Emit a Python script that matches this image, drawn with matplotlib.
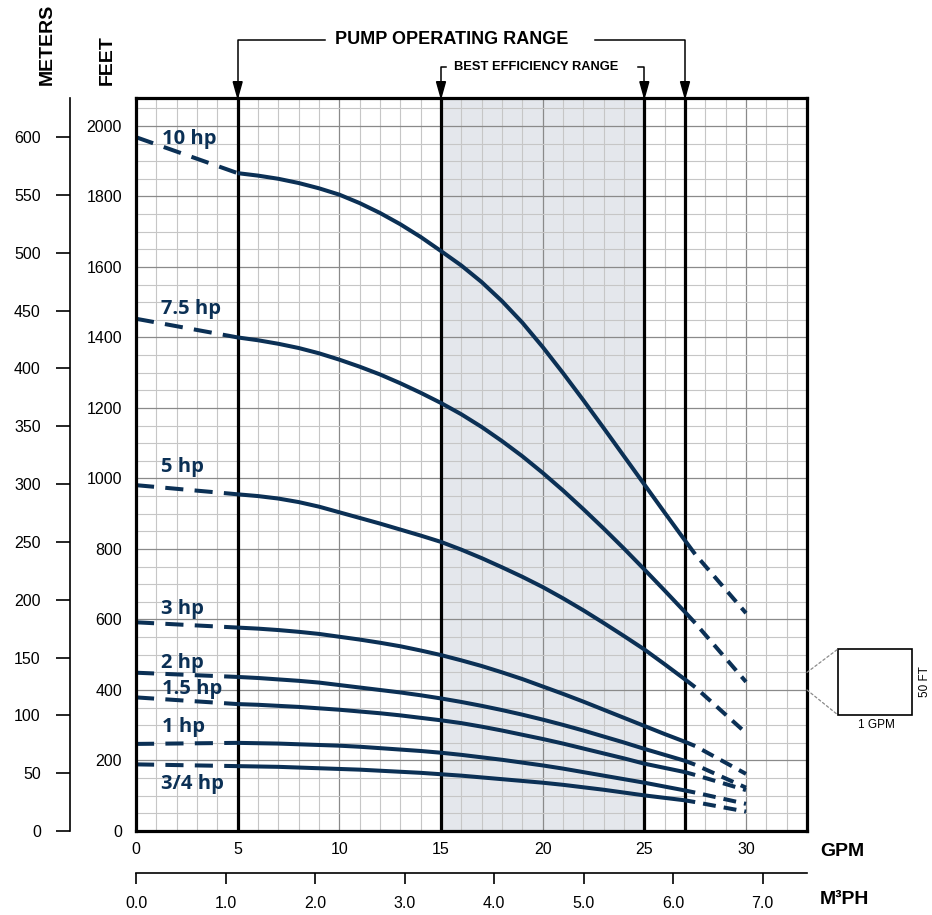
import numpy as np
import matplotlib
matplotlib.use("Agg")
import matplotlib.pyplot as plt
from matplotlib import transforms
from matplotlib.patches import Polygon, Rectangle, ConnectionPatch

plt.rcParams['font.family'] = ['Liberation Sans', 'DejaVu Sans']

# flow (GPM) and head (feet)
gpm = [0, 5, 6, 7, 8, 9, 10, 11, 12, 13, 14, 15, 16, 17, 18, 19, 20,
       21, 22, 23, 24, 25, 26, 27, 27.5, 30]
head_10hp = [1968, 1866, 1859, 1850, 1838, 1823, 1805, 1781, 1753, 1721, 1685, 1645, 1604,
             1557, 1503, 1442, 1373, 1299, 1222, 1143, 1063, 983, 903, 824, 785, 618]
head_7_5hp = [1453, 1400, 1392, 1382, 1370, 1355, 1337, 1317, 1295, 1270, 1243, 1214, 1182,
              1146, 1106, 1063, 1016, 966, 913, 858, 801, 742, 682, 621, 590, 423]
head_5hp = [981, 955, 950, 943, 933, 920, 904, 888, 872, 855, 838, 820, 798,
            774, 748, 721, 692, 660, 626, 590, 553, 515, 473, 430, 408, 278]
head_3hp = [592, 577, 574, 570, 565, 559, 551, 543, 534, 524, 512, 499, 484,
            468, 450, 431, 410, 389, 367, 344, 321, 298, 275, 253, 241, 162]
head_2hp = [449, 437, 434, 430, 426, 421, 414, 407, 400, 393, 385, 376, 366,
            355, 343, 330, 316, 301, 285, 268, 251, 233, 216, 199, 188, 123]
head_1_5hp = [379, 360, 358, 355, 352, 348, 344, 339, 334, 328, 321, 314, 306,
              296, 285, 273, 261, 248, 234, 220, 206, 191, 179, 167, 159, 116]
head_1hp = [247, 250, 249, 248, 246, 244, 242, 239, 235, 231, 227, 222, 216,
            209, 202, 194, 186, 177, 167, 157, 147, 137, 126, 115, 109, 77]
head_3_4hp = [189, 184, 183, 182, 180, 178, 176, 174, 171, 168, 165, 161, 157,
              152, 147, 142, 137, 131, 124, 117, 109, 101, 94, 87, 82, 55]

curve_names = ["10 hp", "7.5 hp", "5 hp", "3 hp", "2 hp", "1.5 hp", "1 hp", "3/4 hp"]
curves = [head_10hp, head_7_5hp, head_5hp, head_3hp,
          head_2hp, head_1_5hp, head_1hp, head_3_4hp]

# where each curve label sits (GPM, feet)
label_x = [1.26, 1.21, 1.21, 1.21, 1.21, 1.28, 1.28, 1.21]
label_y = [1962, 1480, 1033, 631, 477, 402, 296, 133]

operating_range = (5, 27)
best_range = (15, 25)

gpm_ticks = [0, 5, 10, 15, 20, 25, 30]
feet_ticks = list(range(0, 2001, 200))
meter_ticks = list(range(0, 601, 50))
m3ph_ticks = [0, 1, 2, 3, 4, 5, 6, 7]

FT_PER_M = 3.28084
GPM_PER_M3H = 4.40287
XMAX, YMAX = 33, 2080

navy = '#0b3055'
shade = '#e4e7ec'

fig = plt.figure(figsize=(9.32, 9.15), dpi=100)
ax = fig.add_axes([136 / 932, 1 - 831 / 915, 671 / 932, 733.3 / 915])

ax.set_xlim(0, XMAX)
ax.set_ylim(0, YMAX)
ax.set_xticks(gpm_ticks)
ax.set_yticks(feet_ticks)
ax.set_xticks(np.arange(0, XMAX + 1, 1), minor=True)
ax.set_yticks(np.arange(0, YMAX + 1, 50), minor=True)
ax.tick_params(which='both', length=0, labelsize=11.5)
ax.tick_params(axis='x', pad=8)
ax.tick_params(axis='y', pad=10)
ax.set_axisbelow(True)
ax.grid(which='minor', color='#c6c6c6', lw=0.8)
ax.grid(which='major', color='#8a8a8a', lw=0.9)
for s in ax.spines.values():
    s.set_linewidth(2.3)
    s.set_zorder(6)

ax.axvspan(best_range[0], best_range[1], color=shade, zorder=0.2, lw=0)
for xv in sorted(set(operating_range + best_range)):
    ax.axvline(xv, color='black', lw=2.3, zorder=3)

# dashed below 5 GPM and past 27.5 GPM, solid in between
for name, head, lx, ly in zip(curve_names, curves, label_x, label_y):
    ax.plot(gpm[:2], head[:2], color=navy, lw=2.9,
            linestyle=(0, (4.5, 2.8)), zorder=4)
    ax.plot(gpm[1:25], head[1:25], color=navy, lw=2.9,
            solid_capstyle='butt', solid_joinstyle='round', zorder=4)
    ax.plot(gpm[24:], head[24:], color=navy, lw=2.9,
            linestyle=(3.2, (3.2, 2.0)), zorder=4)
    ax.text(lx, ly, name, color=navy, fontsize=14.5, fontweight='bold',
            family=['Open Sans', 'DejaVu Sans'], ha='left', va='center', zorder=5)

# range brackets above the frame
bt = transforms.blended_transform_factory(ax.transData, ax.transAxes)
y_pump, y_best = 1.0787, 1.0425
ax_h = 733.3


def arrow_head(x):
    tri = Polygon([[x - 0.22, 1 + 16 / ax_h], [x + 0.22, 1 + 16 / ax_h], [x, 1.0]],
                  closed=True, transform=bt, color='black', clip_on=False, zorder=7)
    ax.add_patch(tri)


lo, hi = operating_range
ax.plot([lo, lo, 9.3], [1.0, y_pump, y_pump], color='black', lw=1.1,
        transform=bt, clip_on=False)
ax.plot([22.58, hi, hi], [y_pump, y_pump, 1.0], color='black', lw=1.1,
        transform=bt, clip_on=False)
ax.text(15.52, y_pump, "PUMP OPERATING RANGE", transform=bt, ha='center',
        va='center', fontsize=13, fontweight='bold')
arrow_head(lo)
arrow_head(hi)

lo, hi = best_range
ax.plot([lo, lo, lo + 0.25], [1.0, y_best, y_best], color='black', lw=1.1,
        transform=bt, clip_on=False)
ax.plot([hi - 0.31, hi, hi], [y_best, y_best, 1.0], color='black', lw=1.1,
        transform=bt, clip_on=False)
ax.text(19.67, y_best, "BEST EFFICIENCY RANGE", transform=bt, ha='center',
        va='center', fontsize=9.3, fontweight='bold')
arrow_head(lo)
arrow_head(hi)

# meters scale on the far left
axm = fig.add_axes([70 / 932, 1 - 831 / 915, 0.0005, 733.3 / 915])
axm.set_ylim(0, YMAX / FT_PER_M)
axm.set_yticks(meter_ticks)
axm.set_xticks([])
for k in ['top', 'right', 'bottom']:
    axm.spines[k].set_visible(False)
axm.spines['left'].set_linewidth(1.2)
axm.tick_params(axis='y', direction='out', length=10, width=1.2, pad=11,
                labelsize=11.5)
axm.patch.set_visible(False)

# cubic meters per hour scale below
axq = fig.add_axes([136 / 932, 1 - 872.7 / 915, 671 / 932, 0.0005])
axq.set_xlim(0, XMAX / GPM_PER_M3H)
axq.set_xticks(m3ph_ticks)
axq.set_xticklabels([f"{v:.1f}" for v in m3ph_ticks])
axq.set_yticks([])
for k in ['top', 'right', 'left']:
    axq.spines[k].set_visible(False)
axq.spines['bottom'].set_linewidth(1.2)
axq.tick_params(axis='x', direction='out', length=8, width=1.2, pad=9,
                labelsize=11.5)
axq.patch.set_visible(False)

# axis titles
fig.text(47 / 932, 1 - 85 / 915, "METERS", rotation=90, ha='center', va='bottom',
         fontsize=14, fontweight='bold')
fig.text(107 / 932, 1 - 85 / 915, "FEET", rotation=90, ha='center', va='bottom',
         fontsize=14, fontweight='bold')
fig.text(820 / 932, 1 - 851 / 915, "GPM", ha='left', va='center',
         fontsize=14, fontweight='bold')
fig.text(820 / 932, 1 - 900 / 915, "M³PH", ha='left', va='center',
         fontsize=14, fontweight='bold')

# grid scale key
x0, x1 = 838 / 932, 912 / 932
y0, y1 = 1 - 715 / 915, 1 - 649 / 915
fig.add_artist(Rectangle((x0, y0), x1 - x0, y1 - y0, transform=fig.transFigure,
                         fill=False, ec='black', lw=1.2))
for yd, yf in [(450, y1), (400, y0)]:
    con = ConnectionPatch(xyA=(XMAX, yd), coordsA=ax.transData,
                          xyB=(x0, yf), coordsB=fig.transFigure,
                          color='#8a8a8a', lw=0.9, linestyle=(0, (2, 2)))
    fig.add_artist(con)
fig.text(925 / 932, 1 - 681.7 / 915, "50 FT", rotation=90, ha='center',
         va='center', fontsize=8.5)
fig.text(876.7 / 932, 1 - 725.5 / 915, "1 GPM", ha='center', va='center',
         fontsize=8.5)

fig.savefig("out.png", dpi=100)
